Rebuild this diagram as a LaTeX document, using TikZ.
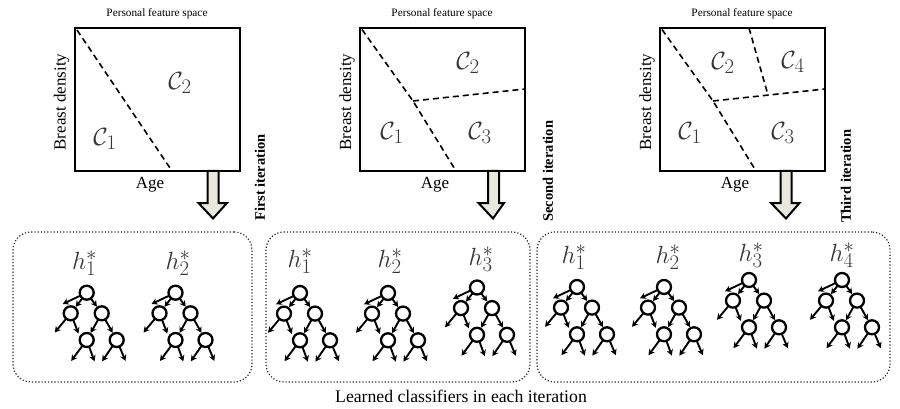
\documentclass[tikz,border=0pt]{standalone}
\usepackage{fontspec}
\setmainfont{Liberation Serif}
\usetikzlibrary{arrows.meta}
\definecolor{arrowfill}{RGB}{232,232,220}
\definecolor{labgray}{RGB}{55,55,55}
\tikzset{
  fspace/.style={draw, line width=2.2pt, minimum width=165pt, minimum height=143pt, inner sep=0pt},
  part/.style={line width=1.6pt, dash pattern=on 6pt off 4pt},
  titletxt/.style={font=\fontsize{11.3}{12}\selectfont, inner sep=0pt},
  axtxt/.style={font=\fontsize{17}{18}\selectfont, inner sep=0pt},
  itertxt/.style={font=\fontsize{14.5}{15}\selectfont\bfseries, inner sep=0pt, rotate=90, anchor=west},
  clab/.style={font=\fontsize{24.88}{26}\selectfont, text=labgray, inner sep=0pt},
  hlab/.style={font=\fontsize{24.88}{26}\selectfont, text=labgray, inner sep=0pt},
  barrow/.style={draw, line width=2pt, fill=arrowfill, line join=miter},
  cbox/.style={draw=black!85, dotted, line width=1.2pt, rounded corners=18pt, minimum height=150pt, inner sep=0pt},
  tnode/.style={draw, circle, line width=2.3pt, minimum size=14pt, inner sep=0pt},
  tedge/.style={line width=1.9pt, -{Stealth[length=6pt,width=6.5pt]}, shorten <=-0.5pt},
  dtree/.pic={
    \node[tnode] (-r) at (0,0) {};
    \node[tnode] (-l) at (-16,20.6) {};
    \node[tnode] (-q) at (15,20.6) {};
    \node[tnode] (-g) at (0,47.3) {};
    \node[tnode] (-k) at (30,47.3) {};
    \coordinate (-a) at (-24,11.3);
    \coordinate (-b) at (-32,39.8);
    \coordinate (-c) at (-8.2,40.8);
    \coordinate (-d) at (-15.5,68.2);
    \coordinate (-e) at (7.8,68.6);
    \coordinate (-f) at (15.4,68.6);
    \coordinate (-h) at (38.8,68.2);
    \draw[tedge] (-r) -- (-a);
    \draw[tedge] (-r) -- (-l);
    \draw[tedge] (-r) -- (-q);
    \draw[tedge] (-l) -- (-b);
    \draw[tedge] (-l) -- (-c);
    \draw[tedge] (-q) -- (-g);
    \draw[tedge] (-q) -- (-k);
    \draw[tedge] (-g) -- (-d);
    \draw[tedge] (-g) -- (-e);
    \draw[tedge] (-k) -- (-f);
    \draw[tedge] (-k) -- (-h);
  }
}
\begin{document}
\begin{tikzpicture}[x=1pt,y=-1pt]
\useasboundingbox (0,0) rectangle (900,409);

% ---------- block arrows (drawn first, boxes on top) ----------
\draw[barrow] (207.5,171) -- (207.5,203) -- (198.5,203) -- (213,218.5) -- (227,203) -- (218.5,203) -- (218.5,171) -- cycle;
\draw[barrow] (488,171) -- (488,203) -- (478.5,203) -- (493,218.5) -- (504,203) -- (499,203) -- (499,171) -- cycle;
\draw[barrow] (780.5,171) -- (780.5,203) -- (771,203) -- (786,218.5) -- (799.5,203) -- (791.5,203) -- (791.5,171) -- cycle;

% ---------- panel 1 ----------
\node[fspace] (p1) at (157.5,99.5) {};
\node[titletxt] (t1) at (157,14) {Personal feature space};
\node[axtxt, rotate=90] (y1) at (61.5,102) {Breast density};
\node[axtxt] (x1) at (150,185) {Age};
\node[itertxt] (i1) at (260,221) {First iteration};
\coordinate (p1a) at (77,30);
\coordinate (p1b) at (172,171);
\draw[part] (p1a) -- (p1b);
\node[clab] (c11) at (105,139) {$\mathcal{C}_1$};
\node[clab] (c12) at (180,83) {$\mathcal{C}_2$};

% ---------- panel 2 ----------
\node[fspace] (p2) at (442.5,99.5) {};
\node[titletxt] (t2) at (442,14) {Personal feature space};
\node[axtxt, rotate=90] (y2) at (347,102) {Breast density};
\node[axtxt] (x2) at (435,185) {Age};
\node[itertxt] (i2) at (548,222) {Second iteration};
\coordinate (p2a) at (362,29.5);
\coordinate (p2m) at (413,101);
\coordinate (p2b) at (456,171);
\coordinate (p2c) at (525,89);
\draw[part] (p2a) -- (p2m) -- (p2b);
\draw[part] (p2m) -- (p2c);
\node[clab] (c21) at (392,133) {$\mathcal{C}_1$};
\node[clab] (c22) at (468,63) {$\mathcal{C}_2$};
\node[clab] (c23) at (480,133) {$\mathcal{C}_3$};

% ---------- panel 3 ----------
\node[fspace] (p3) at (742.5,99.5) {};
\node[titletxt] (t3) at (742,14) {Personal feature space};
\node[axtxt, rotate=90] (y3) at (647,102) {Breast density};
\node[axtxt] (x3) at (735,185) {Age};
\node[itertxt] (i3) at (846,223) {Third iteration};
\coordinate (p3a) at (662,29.5);
\coordinate (p3m) at (713,101);
\coordinate (p3b) at (756,171);
\coordinate (p3c) at (825,89);
\coordinate (p3d) at (749,28);
\coordinate (p3e) at (768,95.1);
\draw[part] (p3a) -- (p3m) -- (p3b);
\draw[part] (p3m) -- (p3c);
\draw[part] (p3d) -- (p3e);
\node[clab] (c31) at (690,133) {$\mathcal{C}_1$};
\node[clab] (c32) at (723,63) {$\mathcal{C}_2$};
\node[clab] (c34) at (793,62) {$\mathcal{C}_4$};
\node[clab] (c33) at (783,133) {$\mathcal{C}_3$};

% ---------- classifier boxes ----------
\node[cbox, minimum width=239pt] (b1) at (132.5,307) {};
\node[cbox, minimum width=264pt] (b2) at (398,307) {};
\node[cbox, minimum width=353pt] (b3) at (713.5,307) {};

% box 1
\node[hlab] (h11) at (84.5,263) {$h_1^*$};
\node[hlab] (h12) at (178,263) {$h_2^*$};
\pic (tr11) at (86.7,292.7) {dtree};
\pic (tr12) at (175.5,292.7) {dtree};

% box 2
\node[hlab] (h21) at (300,261) {$h_1^*$};
\node[hlab] (h22) at (390,261) {$h_2^*$};
\node[hlab] (h23) at (481,259) {$h_3^*$};
\pic (tr21) at (300,293) {dtree};
\pic (tr22) at (388,293) {dtree};
\pic (tr23) at (477,287.5) {dtree};

% box 3
\node[hlab] (h31) at (574,257) {$h_1^*$};
\node[hlab] (h32) at (668,257) {$h_2^*$};
\node[hlab] (h33) at (751,255) {$h_3^*$};
\node[hlab] (h34) at (842,255) {$h_4^*$};
\pic (tr31) at (577,287) {dtree};
\pic (tr32) at (664,287) {dtree};
\pic (tr33) at (749,280) {dtree};
\pic (tr34) at (842,280) {dtree};

% caption
\node[font=\fontsize{17.7}{19}\selectfont, inner sep=0pt] (cap) at (461,396) {Learned classifiers in each iteration};
\end{tikzpicture}
\end{document}
